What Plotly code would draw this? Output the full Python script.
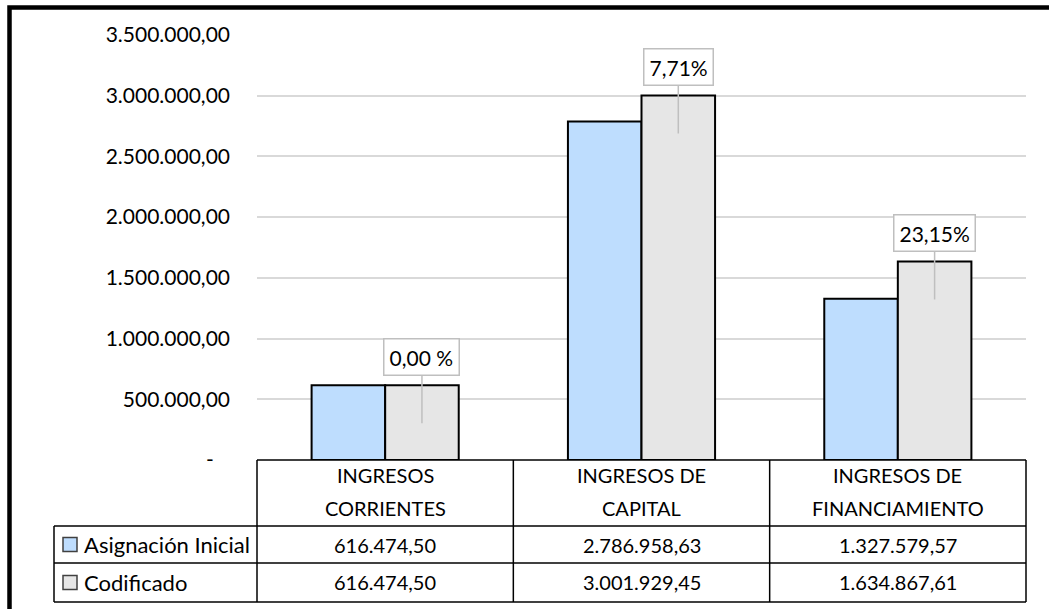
import plotly.graph_objects as go

# ---------------- data ----------------
categories = ["INGRESOS CORRIENTES", "INGRESOS DE CAPITAL", "INGRESOS DE FINANCIAMIENTO"]
category_lines = [["INGRESOS", "CORRIENTES"], ["INGRESOS DE", "CAPITAL"], ["INGRESOS DE", "FINANCIAMIENTO"]]
series_names = ["Asignación Inicial", "Codificado"]
asignacion_inicial = [616474.50, 2786958.63, 1327579.57]
codificado = [616474.50, 3001929.45, 1634867.61]
pct_labels = ["0,00 %", "7,71%", "23,15%"]
y_tickvals = [0, 500000, 1000000, 1500000, 2000000, 2500000, 3000000, 3500000]
y_ticktext = ["-\u00a0\u00a0\u00a0", "500.000,00", "1.000.000,00", "1.500.000,00", "2.000.000,00",
              "2.500.000,00", "3.000.000,00", "3.500.000,00"]

# ---------------- layout geometry (pixels) ----------------
W, H = 1049, 609
PL, PR, PT, PB = 257, 1026, 35, 460
FONT = "Lato"
FS = 21
BLUE = "#BEDDFE"
GRAY = "#E6E6E6"


def xp(px):
    return (px - PL) / (PR - PL)


def yp(py):
    return (PB - py) / (PB - PT)


def es(v):
    s = f"{v:,.2f}"
    return s.replace(",", "X").replace(".", ",").replace("X", ".")


fig = go.Figure()
fig.add_trace(go.Bar(x=categories, y=asignacion_inicial, name=series_names[0],
                     marker=dict(color=BLUE, line=dict(color="black", width=2))))
fig.add_trace(go.Bar(x=categories, y=codificado, name=series_names[1],
                     marker=dict(color=GRAY, line=dict(color="black", width=2))))

band = (PR - PL) / len(categories)
bargap = 0.426
bar_w = band * (1 - bargap) / 2

annotations = []
# callouts above Codificado bars
for cat, v, lab in zip(categories, codificado, pct_labels):
    annotations.append(dict(
        x=cat, y=v, xref="x", yref="y", xshift=bar_w / 2, yshift=-38,
        text=lab, showarrow=True, arrowhead=0, arrowwidth=1.5, arrowcolor="#BFBFBF",
        ax=0, ay=-66, axref="pixel", ayref="pixel",
        bgcolor="white", bordercolor="#BFBFBF", borderwidth=1.5, borderpad=5,
        font=dict(family=FONT, size=FS, color="black")))

shapes = []
# ---- data table ----
x_cols = [PL + band * i for i in range(len(categories) + 1)]
LEG_L = 54
ROW_TOP, ROW1, ROW2, ROW_BOT = 460, 526, 563, 602
line_style = dict(color="black", width=1.5)
for yy, x0 in [(ROW_TOP, PL), (ROW1, LEG_L), (ROW2, LEG_L), (ROW_BOT, LEG_L)]:
    shapes.append(dict(type="line", xref="paper", yref="paper", x0=xp(x0), x1=xp(PR),
                       y0=yp(yy), y1=yp(yy), line=line_style))
for xx in x_cols:
    shapes.append(dict(type="line", xref="paper", yref="paper", x0=xp(xx), x1=xp(xx),
                       y0=yp(ROW_TOP), y1=yp(ROW_BOT), line=line_style))
shapes.append(dict(type="line", xref="paper", yref="paper", x0=xp(LEG_L), x1=xp(LEG_L),
                   y0=yp(ROW1), y1=yp(ROW_BOT), line=line_style))

# header text
for i, lines in enumerate(category_lines):
    cx = PL + band * (i + 0.5)
    for j, ln in enumerate(lines):
        annotations.append(dict(x=xp(cx), y=yp(475 + 33 * j), xref="paper", yref="paper",
                                text=ln, showarrow=False, xanchor="center", yanchor="middle",
                                font=dict(family=FONT, size=FS - 1, color="black")))

# value rows
row_centers = [(ROW1 + ROW2) / 2, (ROW2 + ROW_BOT) / 2]
for r, (vals, nm, col) in enumerate([(asignacion_inicial, series_names[0], BLUE),
                                      (codificado, series_names[1], GRAY)]):
    cy = row_centers[r]
    annotations.append(dict(x=xp(82), y=yp(cy), xref="paper", yref="paper", text=nm,
                            showarrow=False, xanchor="left", yanchor="middle",
                            font=dict(family=FONT, size=FS + 1, color="black")))
    shapes.append(dict(type="rect", xref="paper", yref="paper", x0=xp(63), x1=xp(77),
                       y0=yp(cy - 7), y1=yp(cy + 7), fillcolor=col,
                       line=dict(color="#404040", width=1.5)))
    for i, v in enumerate(vals):
        cx = PL + band * (i + 0.5)
        annotations.append(dict(x=xp(cx), y=yp(cy), xref="paper", yref="paper", text=es(v),
                                showarrow=False, xanchor="center", yanchor="middle",
                                font=dict(family=FONT, size=FS - 1, color="black")))

# outer black frame: left and top edges only, as one open polyline
fx, fy, fr, fb = xp(9.5), yp(7.5), xp(W + 2), yp(H + 2)
shapes.append(dict(type="path", xref="paper", yref="paper",
                   path=f"M {fx},{fb} L {fx},{fy} L {fr},{fy}",
                   line=dict(color="black", width=4.5), fillcolor="rgba(0,0,0,0)"))

fig.update_layout(
    width=W, height=H,
    margin=dict(l=PL, r=W - PR, t=PT, b=H - PB, autoexpand=False),
    paper_bgcolor="white", plot_bgcolor="white",
    barmode="group", bargap=bargap, bargroupgap=0,
    showlegend=False,
    font=dict(family=FONT, size=FS, color="black"),
    xaxis=dict(showticklabels=False, showgrid=False, zeroline=False, showline=False,
               ticks=""),
    yaxis=dict(range=[0, 3500000], tickvals=y_tickvals, ticktext=y_ticktext,
               showgrid=True, gridcolor="#D9D9D9", gridwidth=1.5, zeroline=False,
               showline=False, ticks="", ticklabelstandoff=26,
               tickfont=dict(family=FONT, size=FS, color="black")),
    annotations=annotations,
    shapes=shapes,
)

fig.write_html("out.html", config={"displayModeBar": False})
